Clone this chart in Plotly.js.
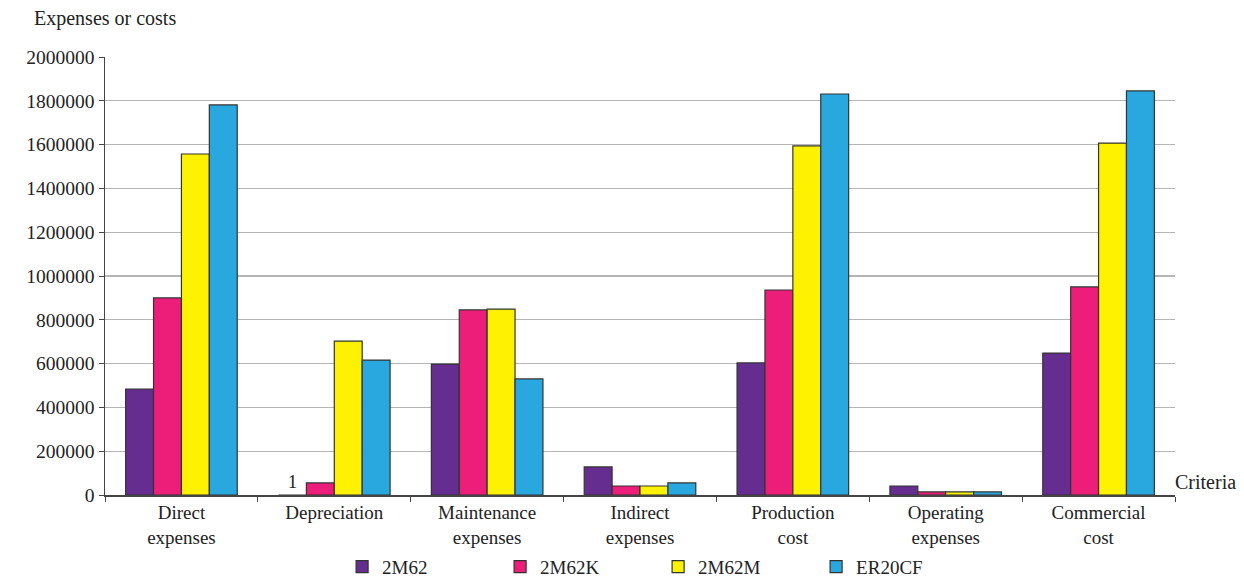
<!DOCTYPE html>
<html>
<head>
<meta charset="utf-8">
<script src="https://cdn.plot.ly/plotly-3.0.1.min.js"></script>
<style>html,body{margin:0;padding:0;background:#fff;}#chart{width:1244px;height:579px;}</style>
</head>
<body>
<div id="chart"></div>
<script>
var categories = ["Direct<br>expenses", "Depreciation", "Maintenance<br>expenses", "Indirect<br>expenses", "Production<br>cost", "Operating<br>expenses", "Commercial<br>cost"];
var seriesNames = ["2M62", "2M62K", "2M62M", "ER20CF"];
var v2M62   = [484000, 1, 598000, 128000, 603000, 41000, 648000];
var v2M62K  = [900000, 55000, 845000, 41000, 936000, 14000, 950000];
var v2M62M  = [1557000, 703000, 849000, 41000, 1594000, 14000, 1607000];
var vER20CF = [1781000, 616000, 530000, 55000, 1831000, 14000, 1845000];
var labels2M62 = ["", "1", "", "", "", "", ""];
var colors = ["#662D91", "#ED1E79", "#FFF200", "#29A8E0"];
var allValues = [v2M62, v2M62K, v2M62M, vER20CF];

var FONT = "Liberation Serif, Times New Roman, serif";
var traces = allValues.map(function(vals, i) {
  var t = {
    type: "bar",
    name: seriesNames[i],
    x: categories,
    y: vals,
    marker: {color: colors[i], line: {color: "#333333", width: 1.2}},
    hoverinfo: "x+y+name"
  };
  if (i === 0) {
    t.text = labels2M62;
    t.textposition = "outside";
    t.cliponaxis = false;
    t.textfont = {family: FONT, size: 19, color: "#222"};
  }
  return t;
});

var layout = {
  width: 1244, height: 579,
  margin: {l: 105, r: 69, t: 57, b: 84},
  paper_bgcolor: "#fff", plot_bgcolor: "#fff",
  font: {family: FONT, size: 20, color: "#222"},
  barmode: "group",
  bargap: 0.27,
  bargroupgap: 0,
  showlegend: true,
  legend: {orientation: "h", xref: "container", yref: "container", x: 0.275, xanchor: "left", y: 0.021, yanchor: "middle",
           bgcolor: "rgba(0,0,0,0)",
           font: {family: FONT, size: 19, color: "#222"}, traceorder: "normal",
           entrywidth: 113, entrywidthmode: "pixels"},
  xaxis: {
    type: "category", automargin: false,
    showline: true, linecolor: "#444", linewidth: 1.5,
    ticks: "outside", tickson: "boundaries", ticklen: 5, tickcolor: "#444",
    showgrid: false, zeroline: false,
    tickfont: {family: FONT, size: 19, color: "#222"}
  },
  yaxis: {
    range: [0, 2000000], dtick: 200000, tick0: 0, automargin: false,
    tickformat: "d", exponentformat: "none",
    showline: true, linecolor: "#444", linewidth: 1.5,
    ticks: "outside", ticklen: 5, tickcolor: "#444",
    showgrid: true, gridcolor: "#b5b5b5", gridwidth: 1.2,
    zeroline: false,
    tickfont: {family: FONT, size: 19.5, color: "#222"}
  },
  annotations: [
    {text: "Expenses or costs", xref: "paper", yref: "paper", x: -0.068, y: 1.057, xanchor: "left", yanchor: "bottom",
     showarrow: false, font: {family: FONT, size: 20, color: "#222"}},
    {text: "Criteria", xref: "paper", yref: "paper", x: 1.0, y: 0.0, xanchor: "left", yanchor: "bottom",
     xshift: -2, yshift: 0, showarrow: false, font: {family: FONT, size: 20, color: "#222"}}
  ]
};

Plotly.newPlot("chart", traces, layout, {displayModeBar: false, staticPlot: true});
</script>
</body>
</html>
